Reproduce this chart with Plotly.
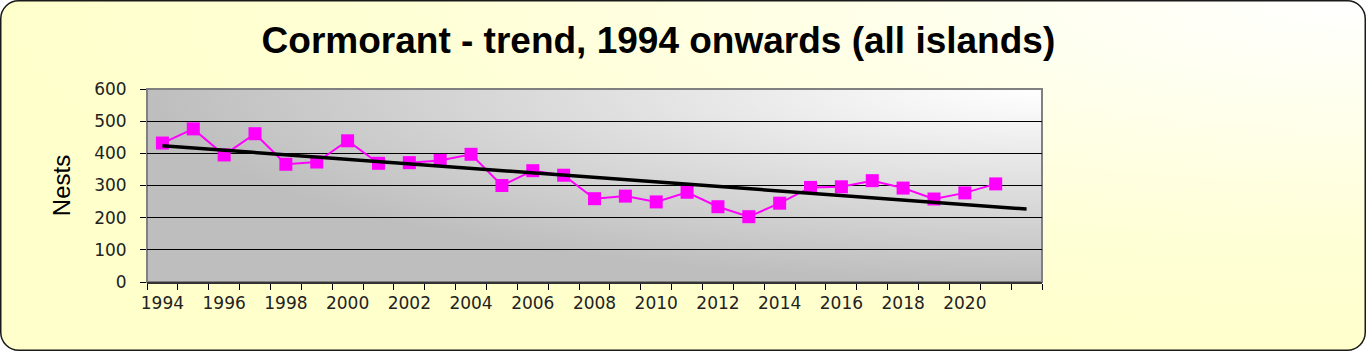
import base64
import numpy as np
import plotly.graph_objects as go

# ---------------- data ----------------
categories = [str(y) for y in range(1994, 2023)]          # 1994 .. 2022
nests = [432, 476, 395, 461, 366, 373, 439, 369, 371, 378, 397, 300, 346, 332,
         259, 267, 249, 279, 234, 203, 245, 294, 296, 315, 292, 258, 277, 305]  # 1994 .. 2021
data_years = categories[:len(nests)]
x_tick_labels = ["1994", "1996", "1998", "2000", "2002", "2004", "2006",
                 "2008", "2010", "2012", "2014", "2016", "2018", "2020"]
y_ticks = [0, 100, 200, 300, 400, 500, 600]
title_text = "Cormorant - trend, 1994 onwards (all islands)"
y_title = "Nests"

# linear trend (least squares), extended one period forward
coef = np.polyfit(np.arange(len(nests)), nests, 1)
trend = np.polyval(coef, np.arange(len(categories)))

# ---------------- layout geometry ----------------
W, H = 1366, 351
L, R, T, B = 147, 324, 89, 69
PW, PH = W - L - R, H - T - B

svg = f'''<svg xmlns="http://www.w3.org/2000/svg" width="{W}" height="{H}" viewBox="0 0 {W} {H}" preserveAspectRatio="none">
<defs>
<radialGradient id="pg" cx="1" cy="0" r="1" fx="1" fy="0">
<stop offset="0" stop-color="#FFFFFF"/><stop offset="0.7" stop-color="#FFFFD6"/><stop offset="1" stop-color="#FFFFCC"/></radialGradient>
<radialGradient id="ag" cx="1" cy="0" r="1" fx="1" fy="0">
<stop offset="0" stop-color="#FFFFFF"/><stop offset="0.12" stop-color="#F8F8F8"/><stop offset="1" stop-color="#BEBEBE"/></radialGradient>
</defs>
<rect x="0.75" y="0.75" width="{W-1.5}" height="{H-1.5}" rx="18" ry="18" fill="url(#pg)" stroke="#1a1a1a" stroke-width="1.5"/>
<rect x="{L}" y="{T}" width="{PW}" height="{PH}" fill="url(#ag)"/>
</svg>'''
svg_uri = "data:image/svg+xml;base64," + base64.b64encode(svg.encode()).decode()

tick_text = [c if c in x_tick_labels else "" for c in categories]

fig = go.Figure()
fig.add_trace(go.Scatter(
    x=data_years, y=nests, mode="lines+markers",
    line=dict(color="#FF00FF", width=2),
    marker=dict(symbol="square", size=13, color="#FF00FF"),
    showlegend=False, hoverinfo="x+y"))
fig.add_trace(go.Scatter(
    x=categories, y=trend, mode="lines",
    line=dict(color="#000000", width=3.5),
    showlegend=False, hoverinfo="skip"))

tick_font = dict(family="DejaVu Sans", size=17, color="#222222")

fig.update_layout(
    width=W, height=H,
    margin=dict(l=L, r=R, t=T, b=B, pad=0),
    paper_bgcolor="rgba(0,0,0,0)",
    plot_bgcolor="rgba(0,0,0,0)",
    title=dict(text=title_text, x=0.482, xanchor="center", y=0.885, yanchor="middle",
               font=dict(family="Liberation Sans", size=37, color="#000000", weight="bold")),
    images=[dict(source=svg_uri, xref="paper", yref="paper",
                 x=-L / PW, y=1 + T / PH, sizex=W / PW, sizey=H / PH,
                 xanchor="left", yanchor="top", sizing="stretch", layer="below")],
    shapes=[dict(type="rect", xref="paper", yref="paper", x0=0, x1=1, y0=0, y1=1,
                 line=dict(color="#808080", width=2), layer="below")],
    xaxis=dict(type="category", categoryorder="array", categoryarray=categories,
               range=[-0.5, len(categories) - 0.5],
               tickmode="array", tickvals=categories, ticktext=tick_text,
               tickson="boundaries", ticks="outside", ticklen=6, tickwidth=1, tickcolor="#000000",
               tickangle=0, ticklabelstandoff=5,
               showgrid=False, zeroline=False,
               showline=True, linecolor="#333333", linewidth=1.5,
               tickfont=tick_font),
    yaxis=dict(range=[0, 600], tickmode="array", tickvals=y_ticks,
               ticks="outside", ticklen=6, tickwidth=1, tickcolor="#000000",
               showgrid=True, gridcolor="#000000", gridwidth=1,
               zeroline=False, showline=False,
               tickfont=tick_font, ticklabelstandoff=10,
               title=dict(text=y_title, standoff=16,
                          font=dict(family="Liberation Sans", size=24, color="#000000"))),
)

fig.write_html("out.html")
